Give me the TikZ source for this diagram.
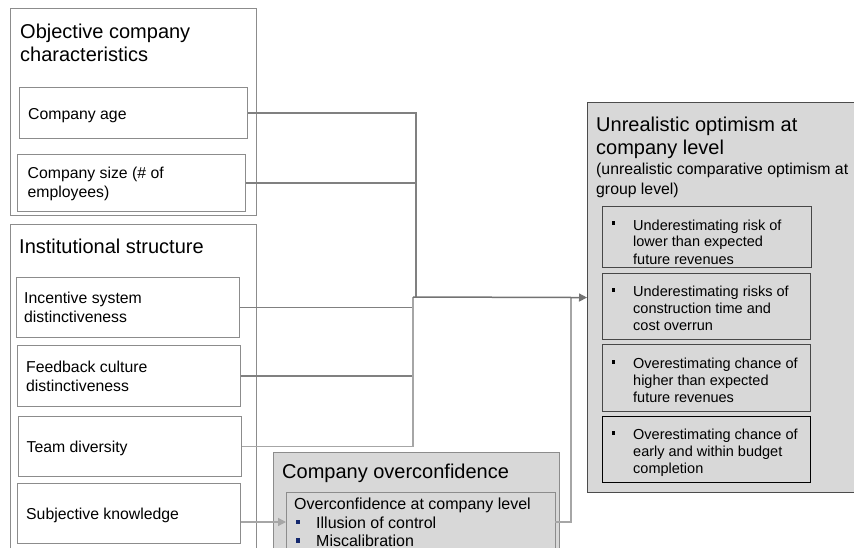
\documentclass[tikz,border=0pt]{standalone}
\usepackage{fontspec}
\setmainfont{Liberation Sans}
\usetikzlibrary{arrows.meta}
\definecolor{boxfill}{RGB}{216,216,216}
\definecolor{navybullet}{RGB}{20,40,110}
\newcommand{\mlines}[2]{\parbox[t]{#1}{\raggedright #2}}
\begin{document}
\begin{tikzpicture}[x=1pt,y=-1pt,
  frame/.style={draw=black!45, line width=1pt, anchor=north west, inner sep=0pt},
  whitebox/.style={frame, fill=white},
  greybox/.style={draw=black!70, line width=1.1pt, fill=boxfill, anchor=north west, inner sep=0pt},
  itembox/.style={draw=black!72, line width=1pt, fill=boxfill, anchor=north west, inner sep=0pt},
  titletext/.style={anchor=base west, inner sep=0pt, font=\fontsize{20pt}{23pt}\selectfont},
  bodytext/.style={anchor=base west, inner sep=0pt, font=\fontsize{15.8pt}{19.5pt}\selectfont},
  octext/.style={anchor=base west, inner sep=0pt, font=\fontsize{16pt}{18.5pt}\selectfont},
  itemtext/.style={anchor=base west, inner sep=0pt, font=\fontsize{14.5pt}{17pt}\selectfont},
  conn/.style={draw=black!50, line width=1.2pt},
  connlight/.style={draw=black!35, line width=1.2pt},
  tip/.style={-{Triangle[length=8pt,width=8pt]}}
]
\clip (0,0) rectangle (854,548);
\fill[white] (0,0) rectangle (854,548);

% ---------- left column: objective company characteristics
\node[frame, minimum width=246pt, minimum height=207pt] (obj) at (10,8) {};
\node[titletext] (objT) at (20,39) {\mlines{230pt}{Objective company\\characteristics}};
\node[whitebox, minimum width=228pt, minimum height=51pt] (age) at (19,87) {};
\node[bodytext] (ageT) at (28,119.5) {Company age};
\node[whitebox, minimum width=228pt, minimum height=57pt] (size) at (17,154) {};
\node[bodytext] (sizeT) at (27.5,178.5) {\mlines{210pt}{Company size (\# of\\employees)}};

% ---------- left column: institutional structure
\node[frame, minimum width=246pt, minimum height=340pt] (inst) at (10,224) {};
\node[titletext] (instT) at (19,253) {Institutional structure};
\node[whitebox, minimum width=223pt, minimum height=60pt] (inc) at (16,277) {};
\node[bodytext] (incT) at (24,303.3) {\mlines{210pt}{Incentive system\\distinctiveness}};
\node[whitebox, minimum width=223pt, minimum height=61pt] (fb) at (17,345) {};
\node[bodytext] (fbT) at (26,372) {\mlines{210pt}{Feedback culture\\distinctiveness}};
\node[whitebox, minimum width=223pt, minimum height=60pt] (team) at (18,416) {};
\node[bodytext] (teamT) at (26.5,452.3) {Team diversity};
\node[whitebox, minimum width=223pt, minimum height=60pt] (sk) at (17,483) {};
\node[bodytext] (skT) at (26,519.3) {Subjective knowledge};

% ---------- company overconfidence
\node[greybox, draw=black!45, minimum width=286pt, minimum height=120pt] (oc) at (273,452) {};
\node[titletext] (ocT) at (282,478) {Company overconfidence};
\node[greybox, draw=black!45, minimum width=269pt, minimum height=80pt] (ocin) at (286,492) {};
\node[octext] (ocinT) at (294,509) {Overconfidence at company level};
\fill[navybullet] (296,519.5) rectangle (300,524);
\node[octext] (oc1) at (316,528) {Illusion of control};
\fill[navybullet] (296,538) rectangle (300,542.5);
\node[octext] (oc2) at (316,546) {Miscalibration};

% ---------- unrealistic optimism
\node[greybox, minimum width=280pt, minimum height=390pt] (unreal) at (587,102) {};
\node[titletext] (unT) at (596,132) {\mlines{250pt}{Unrealistic optimism at\\company level}};
\node[bodytext] (unS) at (596,175) {\mlines{258pt}{(unrealistic comparative optimism at\\group level)}};

\node[itembox, minimum width=209pt, minimum height=61pt] (u1) at (602,206) {};
\fill (612,221.5) rectangle (615,225.5);
\node[itemtext] (u1T) at (633,230) {\mlines{170pt}{Underestimating risk of\\lower than expected\\future revenues}};

\node[itembox, minimum width=208pt, minimum height=66pt] (u2) at (602,273) {};
\fill (612,287.5) rectangle (615,291.5);
\node[itemtext] (u2T) at (633,296) {\mlines{170pt}{Underestimating risks of\\construction time and\\cost overrun}};

\node[itembox, minimum width=208pt, minimum height=67pt] (u3) at (602,344) {};
\fill (612,359.5) rectangle (615,363.5);
\node[itemtext] (u3T) at (633,368.3) {\mlines{170pt}{Overestimating chance of\\higher than expected\\future revenues}};

\node[itembox, draw=black, minimum width=208pt, minimum height=66pt] (u4) at (602,416) {};
\fill (612,430.5) rectangle (615,434.5);
\node[itemtext] (u4T) at (633,439.3) {\mlines{170pt}{Overestimating chance of\\early and within budget\\completion}};

% ---------- connectors
\coordinate (jA) at (416,297);
\coordinate (jB) at (413,297);
\coordinate (jC) at (571,297);
\coordinate (ocOut) at (555,522);
\coordinate (ocIn) at (286,522);

\draw[conn] (age.east) -| (jA);
\draw[conn] (size.east) -| (jA);
\draw[conn] (inc.east) -| (jB);
\draw[conn] (fb.east) -| (jB);
\draw[connlight] (team.east) -| (jB);
\draw[connlight] (ocOut) -| (jC);
\draw[conn, draw=black!55, line width=1.5pt, tip] (jB) -- (unreal.west);
\draw[connlight, tip] (sk.east |- ocIn) -- (ocIn);
\end{tikzpicture}
\end{document}
